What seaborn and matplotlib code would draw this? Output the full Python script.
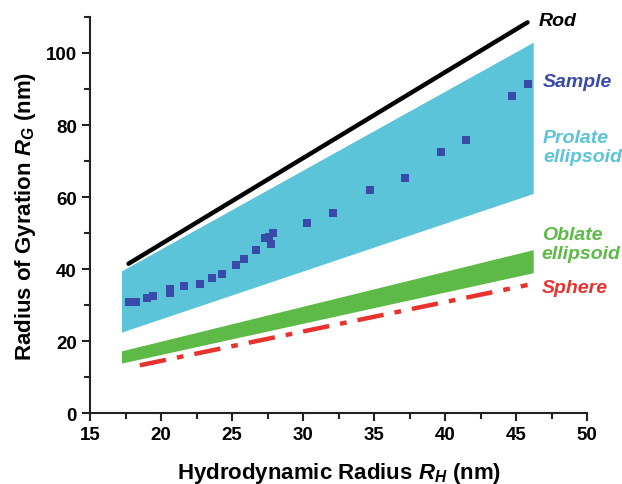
import numpy as np
import pandas as pd
import seaborn as sns
import matplotlib.pyplot as plt
from matplotlib.ticker import MultipleLocator

# data
rh_sample = [17.7, 18.2, 19.0, 19.4, 20.6, 20.6, 21.6, 22.7, 23.6, 24.3, 25.3, 25.8,
             26.7, 27.3, 27.7, 27.9, 27.6, 30.3, 32.1, 34.7, 37.2, 39.7, 41.5, 44.7, 45.8]
rg_sample = [31.0, 31.0, 31.9, 32.4, 33.5, 34.5, 35.2, 36.0, 37.5, 38.6, 41.2, 42.8,
             45.3, 48.5, 47.0, 50.0, 49.0, 52.7, 55.5, 61.9, 65.3, 72.6, 75.9, 88.1, 91.5]

rh_rod = [17.7, 45.8]
rg_rod = [41.5, 108.5]

rh_band = [17.2, 46.2]
prolate_low = [22.5, 61.0]
prolate_high = [39.5, 103.0]
oblate_low = [13.9, 39.0]
oblate_high = [17.3, 45.4]

rh_sphere = [18.5, 45.8]
rg_sphere = [13.3, 35.6]

sns.set_theme(style="ticks")
plt.rcParams['font.family'] = ['Liberation Sans', 'DejaVu Sans']
plt.rcParams['font.weight'] = 'bold'
plt.rcParams['text.color'] = 'black'
plt.rcParams['axes.labelcolor'] = 'black'
plt.rcParams['xtick.color'] = '#222222'
plt.rcParams['ytick.color'] = '#222222'
plt.rcParams['xtick.labelcolor'] = 'black'
plt.rcParams['ytick.labelcolor'] = 'black'
plt.rcParams['mathtext.fontset'] = 'custom'
plt.rcParams['mathtext.rm'] = 'Liberation Sans:bold'
plt.rcParams['mathtext.it'] = 'Liberation Sans:bold:italic'

c_rod = "black"
c_sample = "#3a4aa8"
c_prolate = "#5bc4d9"
c_oblate = "#5dba47"
c_sphere = "#e8322e"

fig = plt.figure(figsize=(6.22, 4.85), dpi=100)
ax = fig.add_axes([0.145, 0.146, 0.799, 0.817])

ax.fill_between(rh_band, prolate_low, prolate_high, color=c_prolate, linewidth=0)
ax.fill_between(rh_band, oblate_low, oblate_high, color=c_oblate, linewidth=0)

sns.lineplot(x=rh_rod, y=rg_rod, color=c_rod, linewidth=3.2, ax=ax)
sns.lineplot(x=rh_sphere, y=rg_sphere, color=c_sphere, linewidth=3.2, ax=ax,
             dashes=False)
ax.lines[-1].set_dashes([6, 2.5, 1.5, 2.5])

df = pd.DataFrame({"RH": rh_sample, "RG": rg_sample})
sns.scatterplot(data=df, x="RH", y="RG", marker="s", s=38, color=c_sample,
                linewidth=0, ax=ax, zorder=5)

txt = dict(fontsize=14, fontweight="bold", style="italic", va="center")
ax.text(46.55, 109, "Rod", color=c_rod, **txt)
ax.text(46.9, 92.2, "Sample", color=c_sample, **txt)
ax.text(46.9, 73.9, "Prolate\nellipsoid", color=c_prolate, linespacing=1.15, **txt)
ax.text(46.8, 47.0, "Oblate\nellipsoid", color=c_oblate, linespacing=1.15, **txt)
ax.text(46.8, 34.8, "Sphere", color=c_sphere, **txt)

ax.set_xlim(15, 50)
ax.set_ylim(0, 110)
ax.set_xticks(np.arange(15, 51, 5))
ax.set_yticks(np.arange(0, 101, 20))
ax.xaxis.set_minor_locator(MultipleLocator(2.5))
ax.yaxis.set_minor_locator(MultipleLocator(10))
ax.tick_params(which="major", length=6, width=1.5, labelsize=13.5, direction="out")
ax.tick_params(which="minor", length=4, width=1.5, direction="out")
for lbl in ax.get_xticklabels() + ax.get_yticklabels():
    lbl.set_fontweight("bold")
for sp in ["left", "bottom"]:
    ax.spines[sp].set_linewidth(1.5)
    ax.spines[sp].set_color("#222222")
sns.despine(ax=ax)

ax.set_xlabel(r"Hydrodynamic Radius $R_H$ (nm)", fontsize=16, fontweight="bold", labelpad=12)
ax.set_ylabel(r"Radius of Gyration $R_G$ (nm)", fontsize=16, fontweight="bold", labelpad=6)

fig.savefig("out.png", dpi=100)
